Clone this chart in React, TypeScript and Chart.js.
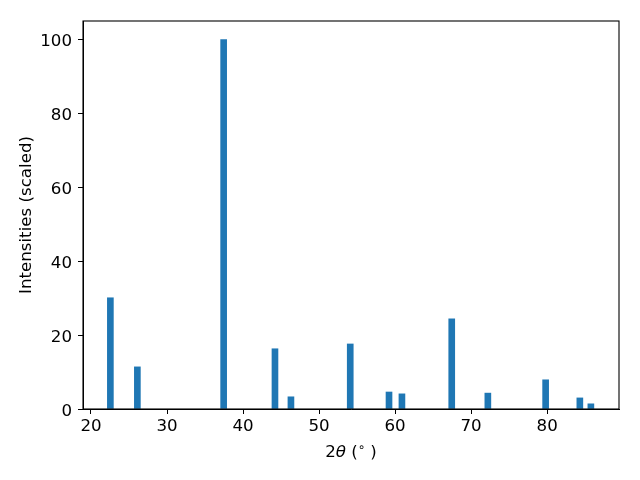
import React, { useEffect, useRef } from "react";
import { Chart, registerables } from "chart.js";

Chart.register(...registerables);

const peakPositions = [22.55, 26.1, 37.45, 44.2, 46.3, 54.1, 59.2, 60.9, 67.45, 72.2, 79.8, 84.3, 85.75];
const intensities = [30.1, 11.4, 100, 16.3, 3.3, 17.6, 4.6, 4.1, 24.4, 4.3, 7.9, 3.0, 1.4];
const xTicks = [20, 30, 40, 50, 60, 70, 80];
const yTicks = [0, 20, 40, 60, 80, 100];
const yLabel = "Intensities (scaled)";

const FONT = "'DejaVu Sans', sans-serif";
const FS = 16.67;

const framePlugin = {
  id: "frameAndTitles",
  afterDraw(chart: any) {
    const { ctx, chartArea } = chart;
    const { left, right, top, bottom } = chartArea;
    ctx.save();
    ctx.strokeStyle = "#000";
    ctx.lineWidth = 1.1;
    ctx.strokeRect(left, top, right - left, bottom - top);

    // y tick labels
    const yScale = chart.scales.y;
    ctx.fillStyle = "#000";
    ctx.font = `${FS}px ${FONT}`;
    ctx.textAlign = "right";
    ctx.textBaseline = "alphabetic";
    yTicks.forEach((v) => {
      const py = yScale.getPixelForValue(v);
      ctx.fillText(String(v), left - 11, py + 6.6);
    });

    // y title
    ctx.translate(30.5, (top + bottom) / 2);
    ctx.rotate(-Math.PI / 2);
    ctx.textAlign = "center";
    ctx.textBaseline = "alphabetic";
    ctx.fillText(yLabel, 0, 0);
    ctx.restore();

    // x title: 2θ (°)
    ctx.save();
    ctx.fillStyle = "#000";
    ctx.textBaseline = "alphabetic";
    ctx.textAlign = "left";
    const base = 457;
    const parts: { t: string; font: string; dy: number }[] = [
      { t: "2", font: `${FS}px ${FONT}`, dy: 0 },
      { t: "θ", font: `italic ${FS}px ${FONT}`, dy: 0 },
      { t: " (", font: `${FS}px ${FONT}`, dy: 0 },
      { t: "∘", font: `${FS * 0.7}px ${FONT}`, dy: -6 },
      { t: " )", font: `${FS}px ${FONT}`, dy: 0 },
    ];
    let total = 0;
    const widths = parts.map((p) => {
      ctx.font = p.font;
      const w = ctx.measureText(p.t).width;
      total += w;
      return w;
    });
    let x = (left + right) / 2 - total / 2;
    parts.forEach((p, i) => {
      ctx.font = p.font;
      ctx.fillText(p.t, x, base + p.dy);
      x += widths[i];
    });
    ctx.restore();
  },
};

export default function App() {
  const ref = useRef<HTMLCanvasElement | null>(null);

  useEffect(() => {
    if (!ref.current) return;
    const chart = new Chart(ref.current, {
      type: "bar",
      data: {
        datasets: [
          {
            data: peakPositions.map((x, i) => ({ x, y: intensities[i] })),
            backgroundColor: "#1f77b4",
            borderWidth: 0,
            barThickness: 6,
          },
        ],
      },
      options: {
        animation: false,
        responsive: false,
        devicePixelRatio: 1,
        layout: { padding: { top: 21, right: 21, left: 0, bottom: 0 } },
        plugins: { legend: { display: false }, tooltip: { enabled: false } },
        scales: {
          x: {
            type: "linear",
            min: 18.95,
            max: 89.45,
            offset: false,
            grid: {
              offset: false,
              drawOnChartArea: false,
              drawTicks: true,
              tickLength: 5,
              color: "#000",
              lineWidth: 1,
            },
            border: { display: true, color: "#000", width: 1 },
            ticks: {
              color: "#000",
              font: { family: FONT, size: FS },
              padding: 3,
              autoSkip: false,
              maxRotation: 0,
            },
            afterBuildTicks: (s: any) => {
              s.ticks = xTicks.map((v) => ({ value: v }));
            },
            afterFit: (s: any) => {
              s.height = 71;
            },
          },
          y: {
            type: "linear",
            min: 0,
            max: 105,
            grid: {
              drawOnChartArea: false,
              drawTicks: true,
              tickLength: 5,
              color: "#000",
              lineWidth: 1,
            },
            border: { display: true, color: "#000", width: 1 },
            ticks: {
              display: false,
              autoSkip: false,
            },
            afterBuildTicks: (s: any) => {
              s.ticks = yTicks.map((v) => ({ value: v }));
            },
            afterFit: (s: any) => {
              s.width = 83;
            },
          },
        },
      },
      plugins: [framePlugin],
    } as any);
    return () => chart.destroy();
  }, []);

  return (
    <div style={{ position: "fixed", left: 0, top: 0, width: 640, height: 480, background: "#fff" }}>
      <canvas ref={ref} width={640} height={480} style={{ display: "block" }} />
    </div>
  );
}
